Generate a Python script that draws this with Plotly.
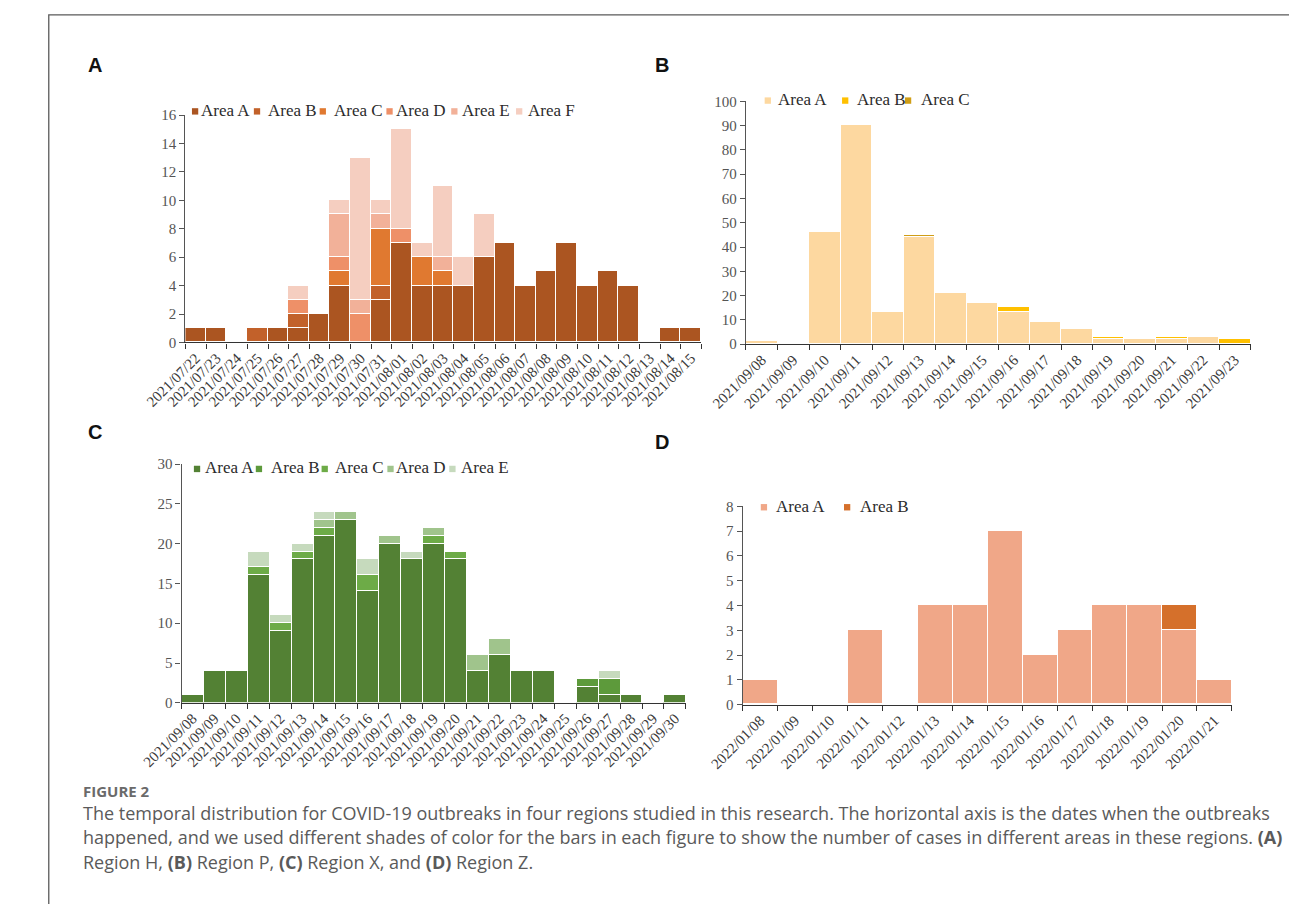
import plotly.graph_objects as go

W, H = 1289, 904

# ---------------- data ----------------
# (A) Region H
dates_h = ["2021/07/22", "2021/07/23", "2021/07/24", "2021/07/25", "2021/07/26",
           "2021/07/27", "2021/07/28", "2021/07/29", "2021/07/30", "2021/07/31",
           "2021/08/01", "2021/08/02", "2021/08/03", "2021/08/04", "2021/08/05",
           "2021/08/06", "2021/08/07", "2021/08/08", "2021/08/09", "2021/08/10",
           "2021/08/11", "2021/08/12", "2021/08/13", "2021/08/14", "2021/08/15"]
h_area_a = [1, 1, 0, 0, 1, 1, 2, 4, 0, 3, 7, 4, 4, 4, 6, 7, 4, 5, 7, 4, 5, 4, 0, 1, 1]
h_area_b = [0, 0, 0, 1, 0, 1, 0, 0, 0, 1, 0, 0, 0, 0, 0, 0, 0, 0, 0, 0, 0, 0, 0, 0, 0]
h_area_c = [0, 0, 0, 0, 0, 0, 0, 1, 0, 4, 0, 2, 1, 0, 0, 0, 0, 0, 0, 0, 0, 0, 0, 0, 0]
h_area_d = [0, 0, 0, 0, 0, 1, 0, 1, 2, 0, 1, 0, 0, 0, 0, 0, 0, 0, 0, 0, 0, 0, 0, 0, 0]
h_area_e = [0, 0, 0, 0, 0, 0, 0, 3, 1, 1, 0, 0, 1, 0, 0, 0, 0, 0, 0, 0, 0, 0, 0, 0, 0]
h_area_f = [0, 0, 0, 0, 0, 1, 0, 1, 10, 1, 7, 1, 5, 2, 3, 0, 0, 0, 0, 0, 0, 0, 0, 0, 0]

# (B) Region P
dates_p = ["2021/09/08", "2021/09/09", "2021/09/10", "2021/09/11", "2021/09/12",
           "2021/09/13", "2021/09/14", "2021/09/15", "2021/09/16", "2021/09/17",
           "2021/09/18", "2021/09/19", "2021/09/20", "2021/09/21", "2021/09/22",
           "2021/09/23"]
p_area_a = [1, 0, 46, 90, 13, 44, 21, 17, 13, 9, 6, 2, 2, 2, 3, 0]
p_area_b = [0, 0, 0, 0, 0, 0, 0, 0, 2, 0, 0, 1, 0, 1, 0, 2]
p_area_c = [0, 0, 0, 0, 0, 1, 0, 0, 0, 0, 0, 0, 0, 0, 0, 0]

# (C) Region X
dates_x = ["2021/09/08", "2021/09/09", "2021/09/10", "2021/09/11", "2021/09/12",
           "2021/09/13", "2021/09/14", "2021/09/15", "2021/09/16", "2021/09/17",
           "2021/09/18", "2021/09/19", "2021/09/20", "2021/09/21", "2021/09/22",
           "2021/09/23", "2021/09/24", "2021/09/25", "2021/09/26", "2021/09/27",
           "2021/09/28", "2021/09/29", "2021/09/30"]
x_area_a = [1, 4, 4, 16, 9, 18, 21, 23, 14, 20, 18, 20, 18, 4, 6, 4, 4, 0, 2, 1, 1, 0, 1]
x_area_b = [0, 0, 0, 0, 0, 0, 0, 0, 0, 0, 0, 0, 0, 0, 0, 0, 0, 0, 1, 2, 0, 0, 0]
x_area_c = [0, 0, 0, 1, 1, 1, 1, 0, 2, 0, 0, 1, 1, 0, 0, 0, 0, 0, 0, 0, 0, 0, 0]
x_area_d = [0, 0, 0, 0, 0, 0, 1, 1, 0, 1, 0, 1, 0, 2, 2, 0, 0, 0, 0, 0, 0, 0, 0]
x_area_e = [0, 0, 0, 2, 1, 1, 1, 0, 2, 0, 1, 0, 0, 0, 0, 0, 0, 0, 0, 1, 0, 0, 0]

# (D) Region Z
dates_z = ["2022/01/08", "2022/01/09", "2022/01/10", "2022/01/11", "2022/01/12",
           "2022/01/13", "2022/01/14", "2022/01/15", "2022/01/16", "2022/01/17",
           "2022/01/18", "2022/01/19", "2022/01/20", "2022/01/21"]
z_area_a = [1, 0, 0, 3, 0, 4, 4, 7, 2, 3, 4, 4, 3, 1]
z_area_b = [0, 0, 0, 0, 0, 0, 0, 0, 0, 0, 0, 0, 1, 0]

area_names = ["Area A", "Area B", "Area C", "Area D", "Area E", "Area F"]

# ---------------- styling ----------------
SERIF = "Liberation Serif, Times New Roman, serif"
SANS = "Liberation Sans, Arial, sans-serif"
CAPTION = "Open Sans, Noto Sans, sans-serif"

panels = [
    dict(key="", dates=dates_h,
         series=[h_area_a, h_area_b, h_area_c, h_area_d, h_area_e, h_area_f],
         colors=["#AB5521", "#C2612A", "#E07930", "#EE9068", "#F2B199", "#F5CEC0"],
         xpx=(148.3, 681.6), ypx=(109.0, 340.5), yrange=(0, 16), dtick=2,
         label="A", label_xy=(55, 58),
         legend_y=104, legend_sym=[155, 219, 287, 356, 423, 490],
         legend_txt=[163, 233, 301, 365, 433, 501]),
    dict(key="2", dates=dates_p,
         series=[p_area_a, p_area_b, p_area_c],
         colors=["#FDD8A0", "#FFC000", "#D09E16"],
         xpx=(727.7, 1249.3), ypx=(95.0, 342.3), yrange=(0, 100), dtick=10,
         label="B", label_xy=(641, 58),
         legend_y=93, legend_sym=[747, 827, 892],
         legend_txt=[760, 841, 908]),
    dict(key="3", dates=dates_x,
         series=[x_area_a, x_area_b, x_area_c, x_area_d, x_area_e],
         colors=["#538134", "#5D9A3B", "#6DAB47", "#A0C48C", "#C6DABD"],
         xpx=(144.3, 665.6), ypx=(464.3, 707.3), yrange=(0, 30), dtick=5,
         label="C", label_xy=(55, 432),
         legend_y=468, legend_sym=[157, 221, 289, 357, 421],
         legend_txt=[167, 236, 302, 365, 432]),
    dict(key="4", dates=dates_z,
         series=[z_area_a, z_area_b],
         colors=["#F0A788", "#D5702B"],
         xpx=(724.3, 1230.0), ypx=(507.3, 709.3), yrange=(0, 8), dtick=1,
         label="D", label_xy=(641, 442),
         legend_y=507, legend_sym=[743, 829],
         legend_txt=[758, 845]),
]


def px_x(x):
    return x / W


def px_y(y):
    return 1 - y / H


fig = go.Figure()
layout = dict(
    width=W, height=H,
    margin=dict(l=0, r=0, t=0, b=0),
    paper_bgcolor="white", plot_bgcolor="white",
    barmode="stack", bargap=0,
    showlegend=False,
)
annotations = []
shapes = []

for p in panels:
    k = p["key"]
    xa = "x" + k
    ya = "y" + k
    for name, vals, col in zip(area_names, p["series"], p["colors"]):
        fig.add_trace(go.Bar(
            x=p["dates"], y=vals, name=name, xaxis=xa, yaxis=ya,
            marker=dict(color=col, line=dict(color="white", width=1)),
        ))

    layout["xaxis" + k] = dict(
        type="category", domain=[px_x(p["xpx"][0]), px_x(p["xpx"][1])],
        anchor=ya, showgrid=False, zeroline=False,
        showline=True, linecolor="#333333", linewidth=1.4,
        ticks="outside", tickson="boundaries", ticklen=5, tickwidth=1.2,
        tickcolor="#333333", tickangle=-45,
        tickfont=dict(family=SERIF, size=15, color="#3a3a3a"),
    )
    layout["yaxis" + k] = dict(
        domain=[px_y(p["ypx"][1]), px_y(p["ypx"][0])],
        anchor=xa, range=list(p["yrange"]), dtick=p["dtick"],
        showgrid=False, zeroline=False,
        showline=True, linecolor="#555555", linewidth=1.3,
        ticks="outside", ticklen=5, tickwidth=1.2, tickcolor="#555555",
        tickfont=dict(family=SERIF, size=15, color="#555555"),
    )

    # panel letter
    annotations.append(dict(
        text="<b>%s</b>" % p["label"], xref="paper", yref="paper",
        x=px_x(p["label_xy"][0]), y=px_y(p["label_xy"][1]),
        xanchor="center", yanchor="middle", showarrow=False,
        font=dict(family=SANS, size=20, color="#111111"),
    ))

    # legend: small coloured square followed by the area name
    for i, col in enumerate(p["colors"]):
        sx = p["legend_sym"][i]
        cy = p["legend_y"] + 1
        shapes.append(dict(
            type="rect", xref="paper", yref="paper",
            x0=px_x(sx), x1=px_x(sx + 6.5), y0=px_y(cy + 3.5), y1=px_y(cy - 3),
            fillcolor=col, line=dict(width=0),
        ))
        annotations.append(dict(
            text=area_names[i], xref="paper", yref="paper",
            x=px_x(p["legend_txt"][i] - 1), y=px_y(p["legend_y"]),
            xanchor="left", yanchor="middle", showarrow=False,
            font=dict(family=SERIF, size=17, color="#2b2b2b"),
        ))

# figure frame (top and left edges visible)
shapes.append(dict(
    type="rect", xref="paper", yref="paper",
    x0=px_x(7), x1=px_x(W + 20), y0=px_y(H + 20), y1=px_y(7),
    line=dict(color="#5a5a5a", width=1.3), fillcolor="rgba(0,0,0,0)",
))

# caption
annotations.append(dict(
    text="<b>FIGURE 2</b>", xref="paper", yref="paper",
    x=px_x(40), y=px_y(797), xanchor="left", yanchor="middle", showarrow=False,
    font=dict(family=CAPTION, size=15, color="#6a6a6a"),
))
caption_lines = [
    "The temporal distribution for COVID-19 outbreaks in four regions studied in this research. "
    "The horizontal axis is the dates when the outbreaks",
    "happened, and we used different shades of color for the bars in each figure to show the "
    "number of cases in different areas in these regions. <b>(A)</b>",
    "Region H, <b>(B)</b> Region P, <b>(C)</b> Region X, and <b>(D)</b> Region Z.",
]
for line, yy in zip(caption_lines, [819, 844, 869]):
    annotations.append(dict(
        text=line, xref="paper", yref="paper",
        x=px_x(40), y=px_y(yy), xanchor="left", yanchor="middle", showarrow=False,
        font=dict(family=CAPTION, size=18, color="#5a5a5a"),
    ))

layout["annotations"] = annotations
layout["shapes"] = shapes
fig.update_layout(**layout)

# place the figure flush with the page corner
fig.write_html(
    "out.html",
    post_script="document.body.style.margin='0';document.body.style.overflow='hidden';",
)
